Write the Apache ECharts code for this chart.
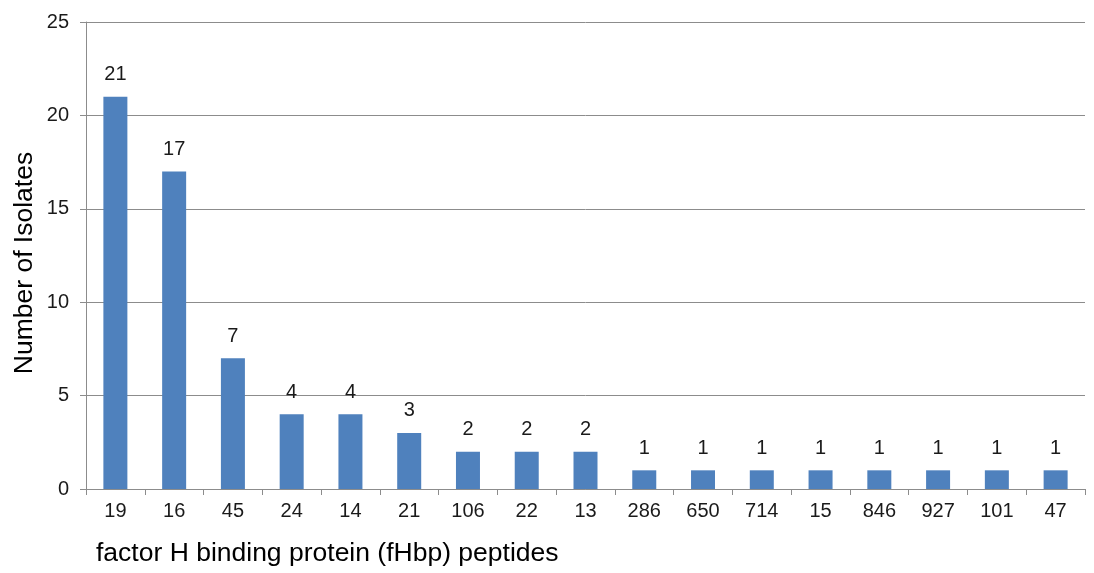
<!DOCTYPE html>
<html>
<head>
<meta charset="utf-8">
<script src="https://cdn.jsdelivr.net/npm/echarts@6/dist/echarts.min.js"></script>
<style>
  html, body { margin: 0; padding: 0; background: #fff; }
  #chart { width: 1094px; height: 573px; }
</style>
</head>
<body>
<div id="chart"></div>
<script>
// fHbp peptide ids and isolate counts
var peptides = ['19', '16', '45', '24', '14', '21', '106', '22', '13', '286', '650', '714', '15', '846', '927', '101', '47'];
var isolates = [21, 17, 7, 4, 4, 3, 2, 2, 2, 1, 1, 1, 1, 1, 1, 1, 1];
var yTicks = [0, 5, 10, 15, 20, 25];

var font = 'Liberation Sans, Arial, sans-serif';
var myChart = echarts.init(document.getElementById('chart'));

var option = {
  animation: false,
  textStyle: { fontFamily: font },
  grid: { left: 86, right: 9, top: 22, bottom: 84 },
  xAxis: {
    type: 'category',
    data: peptides,
    axisLine: { lineStyle: { color: '#8c8c8c', width: 1 } },
    axisTick: { show: true, length: 6, lineStyle: { color: '#8c8c8c' } },
    axisLabel: { color: '#1a1a1a', fontSize: 20, margin: 12, fontFamily: font }
  },
  yAxis: {
    type: 'value',
    min: yTicks[0],
    max: yTicks[yTicks.length - 1],
    interval: 5,
    axisLine: { show: true, lineStyle: { color: '#8c8c8c', width: 1 } },
    axisTick: { show: true, length: 6, lineStyle: { color: '#8c8c8c' } },
    axisLabel: { color: '#1a1a1a', fontSize: 20, margin: 17, fontFamily: font },
    splitLine: { show: true, lineStyle: { color: '#8c8c8c', width: 1 } }
  },
  graphic: [{
    type: 'text',
    left: 96,
    top: 540,
    style: {
      text: 'factor H binding protein (fHbp) peptides',
      fill: '#000',
      font: '26.5px ' + font
    }
  }, {
    type: 'text',
    x: 25,
    y: 263,
    rotation: Math.PI / 2,
    style: {
      text: 'Number of Isolates',
      fill: '#000',
      font: '26.5px ' + font,
      align: 'center',
      verticalAlign: 'middle'
    }
  }],
  series: [{
    type: 'bar',
    data: isolates,
    barWidth: 24,
    itemStyle: { color: '#4f81bd' },
    label: {
      show: true,
      position: 'top',
      distance: 12,
      color: '#1a1a1a',
      fontSize: 20,
      fontFamily: font
    }
  }]
};
myChart.setOption(option);
</script>
</body>
</html>
